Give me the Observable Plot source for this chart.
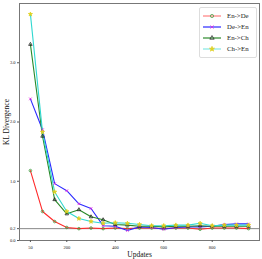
<!DOCTYPE html>
<html><head><meta charset="utf-8">
<script src="https://cdn.jsdelivr.net/npm/d3@7"></script>
<script src="https://cdn.jsdelivr.net/npm/@observablehq/plot@0.6"></script>
<style>
html,body{margin:0;padding:0;background:#fff;}
#chart{position:relative;width:262px;height:259px;}
#legend{position:absolute;left:199px;top:7px;width:56px;height:49px;background:rgba(255,255,255,0.85);border:0.7px solid #ddd;border-radius:2px;font-family:'Liberation Serif',serif;font-size:6.8px;color:#222;}
.item{position:absolute;left:0;height:10px;width:56px;}
.item svg{position:absolute;left:3px;top:0;}
.item span{position:absolute;left:27px;top:1px;line-height:8px;white-space:nowrap;}
</style>
</head><body><div id="chart"><div id="legend"></div></div>
<script>
const updates = [50,100,150,200,250,300,350,400,450,500,550,600,650,700,750,800,850,900,950];
const enDe = [1.18,0.49,0.32,0.22,0.20,0.21,0.20,0.21,0.20,0.21,0.21,0.20,0.21,0.21,0.19,0.21,0.21,0.21,0.20];
const deEn = [2.39,1.87,0.96,0.84,0.62,0.54,0.25,0.24,0.17,0.23,0.22,0.19,0.22,0.23,0.23,0.24,0.27,0.28,0.28];
const enCh = [3.31,1.76,0.69,0.45,0.52,0.40,0.35,0.27,0.26,0.24,0.24,0.23,0.24,0.24,0.25,0.24,0.24,0.24,0.24];
const chEn = [3.82,1.83,0.82,0.49,0.37,0.32,0.29,0.30,0.29,0.27,0.25,0.25,0.26,0.26,0.29,0.25,0.26,0.26,0.26];
const seriesNames = ["En->De","De->En","En->Ch","Ch->En"];
const xTicks = [50,200,400,600,800];
const yTicks = [0,0.2,1,2,3];
const refLine = [0.2];

const styles = {
  "En->De": {line:"#ff2a2a", symbol:"circle", mfill:"none", mstroke:"#3a9a3a"},
  "De->En": {line:"#2a2aff", symbol:"times", mfill:"none", mstroke:"#e020e0"},
  "En->Ch": {line:"#2a8a2a", symbol:"triangle", mfill:"none", mstroke:"#222"},
  "Ch->En": {line:"#30d8d0", symbol:"star", mfill:"#e0d020", mstroke:"#e0d020"}
};
const valuesBySeries = [enDe, deEn, enCh, chEn];
const data = [];
seriesNames.forEach((s,i)=>updates.forEach((u,j)=>data.push({series:s, x:u, y:valuesBySeries[i][j]})));

const marks = [
  Plot.frame({stroke:"#777", strokeWidth:1}),
  Plot.ruleY(refLine, {stroke:"#888", strokeWidth:1}),
  Plot.axisX({ticks:xTicks, tickSize:2, tickFormat:d=>String(d), fontSize:4.5, label:"Updates", labelAnchor:"center", labelArrow:"none", labelOffset:16, tickPadding:3, stroke:"#555"}),
  Plot.axisY({ticks:yTicks, tickSize:2, tickFormat:d3.format(".1f"), fontSize:4.5, label:"KL Divergence", labelAnchor:"center", labelArrow:"none", labelOffset:16, tickPadding:2, stroke:"#555"})
];
seriesNames.forEach(s=>{
  const st = styles[s];
  const d = data.filter(r=>r.series===s);
  marks.push(Plot.line(d, {x:"x", y:"y", stroke:st.line, strokeWidth:1.1}));
});
seriesNames.forEach(s=>{
  const st = styles[s];
  const d = data.filter(r=>r.series===s);
  marks.push(Plot.dot(d, {x:"x", y:"y", symbol:()=>st.symbol, r:1.3, fill:st.mfill, stroke:st.mstroke, strokeWidth:0.8}));
});

const plot = Plot.plot({
  width:262, height:259,
  marginLeft:19, marginRight:3, marginTop:3, marginBottom:19,
  style:{fontFamily:"'Liberation Serif', serif", background:"#fff", color:"#222"},
  x:{domain:[5,995]},
  y:{domain:[0,4]},
  symbol:{type:"identity"},
  marks
});
const chart = document.getElementById("chart");
chart.insertBefore(plot, chart.firstChild);

d3.select(plot).selectAll("g[aria-label='x-axis label'] text, g[aria-label='y-axis label'] text").style("font-size","7.5px").attr("fill","#111");

// legend (HTML overlay, top-right inside plot)
const symGen = {circle:d3.symbolCircle, times:d3.symbolTimes, triangle:d3.symbolTriangle, star:d3.symbolStar};
const legend = d3.select("#legend");
seriesNames.forEach((s,i)=>{
  const st = styles[s];
  const item = legend.append("div").attr("class","item").style("top",(2.5 + i*11.3)+"px");
  const sv = item.append("svg").attr("width",20).attr("height",10);
  sv.append("line").attr("x1",0).attr("x2",18).attr("y1",5).attr("y2",5)
    .attr("stroke",st.line).attr("stroke-width",1.2).attr("stroke-opacity",(s==="En->De"||s==="Ch->En")?0.6:1);
  sv.append("path").attr("transform","translate(9,5)").attr("d",d3.symbol(symGen[st.symbol],8)())
    .attr("fill",st.mfill).attr("stroke",st.mstroke).attr("stroke-width",0.7);
  item.append("span").text(s);
});
</script>
</body></html>
